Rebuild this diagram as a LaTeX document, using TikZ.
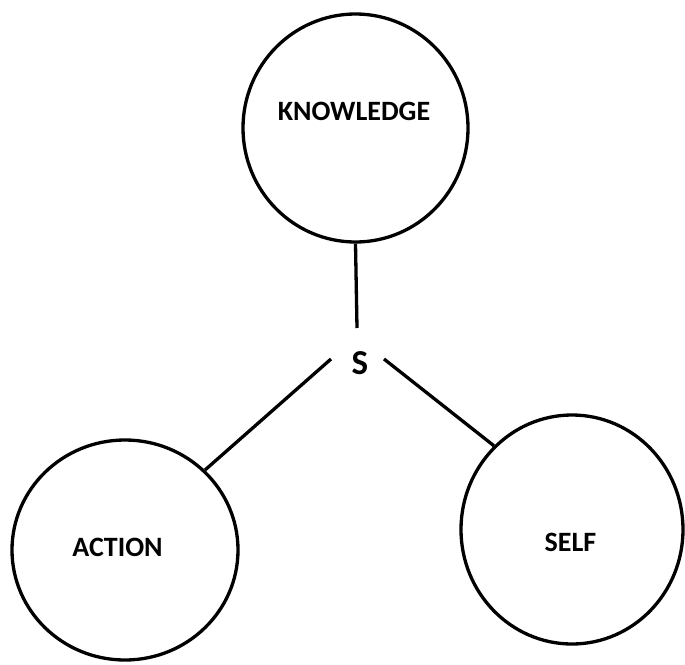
\documentclass[tikz,border=0pt]{standalone}
\usepackage{fontspec}
\setmainfont{Carlito}
\usetikzlibrary{shapes.geometric}
\begin{document}
\begin{tikzpicture}[x=1pt,y=-1pt,
  blob/.style={draw=black,line width=3.3pt,ellipse,inner sep=0pt},
  lbl/.style={font=\fontsize{28}{32}\selectfont\bfseries,inner sep=0pt},
  conn/.style={draw=black,line width=3.3pt}]
\useasboundingbox (0,0) rectangle (685,664);
\node[blob,minimum width=225,minimum height=228] (K) at (355.5,128) {};
\node[blob,minimum width=226,minimum height=220] (A) at (125,550) {};
\node[blob,minimum width=222,minimum height=229] (F) at (572,529.5) {};
\node[lbl] (Kt) at (354,111.5) {KNOWLEDGE};
\node[lbl] (At) at (117.5,547.5) {ACTION};
\node[lbl] (Ft) at (570.5,542.5) {SELF};
\node[font=\fontsize{35}{40}\selectfont\bfseries,inner sep=0pt] (S) at (360,363) {S};
\coordinate (st) at (357,328);
\coordinate (sl) at (331,359);
\coordinate (sr) at (384,359);
\draw[conn] (K.south) -- (st);
\draw[conn] (sl) -- (A.45);
\draw[conn] (sr) -- (F.133);
\end{tikzpicture}
\end{document}
